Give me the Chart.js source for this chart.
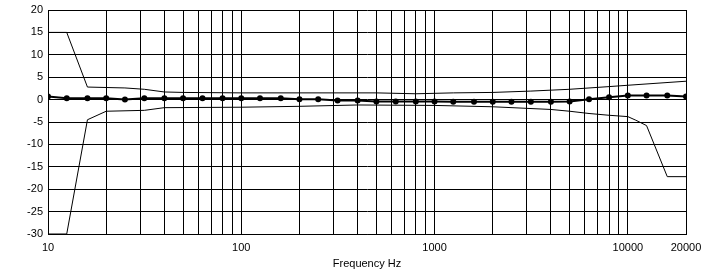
<!DOCTYPE html>
<html>
<head>
<meta charset="utf-8">
<script src="https://cdn.jsdelivr.net/npm/chart.js@4"></script>
<style>
  body { margin: 0; background: #fff; }
  canvas { display: block; }
</style>
</head>
<body>
<canvas id="freq_chart" width="706" height="275"></canvas>
<script>
// measured response, 1/3 octave bands
const freqs = [10, 12.5, 16, 20, 25, 31.5, 40, 50, 63, 80, 100, 125, 160, 200, 250, 315, 400, 500, 630, 800,
  1000, 1250, 1600, 2000, 2500, 3150, 4000, 5000, 6300, 8000, 10000, 12500, 16000, 20000];
const response = [0.7, 0.3, 0.3, 0.3, 0.0, 0.3, 0.3, 0.3, 0.3, 0.3, 0.3, 0.3, 0.3, 0.1, 0.1, -0.2, -0.2, -0.4, -0.4, -0.4,
  -0.4, -0.5, -0.5, -0.5, -0.5, -0.5, -0.5, -0.4, 0.1, 0.5, 0.9, 0.9, 0.9, 0.7];

// tolerance limits
const upperFreqs = [10, 12.5, 16, 20, 25, 31.5, 40, 50, 100, 200, 500, 800, 1000, 1250, 2000, 3150, 5000, 8000, 10000, 20000];
const upperLimit = [15, 15, 2.8, 2.7, 2.6, 2.3, 1.7, 1.6, 1.5, 1.5, 1.5, 1.3, 1.4, 1.5, 1.6, 1.9, 2.3, 2.9, 3.2, 4.1];
const lowerFreqs = [10, 12.5, 16, 20, 31.5, 40, 100, 200, 400, 1000, 2000, 4000, 5000, 6300, 8000, 10000, 11000, 12500, 16000, 20000];
const lowerLimit = [-30, -30, -4.5, -2.6, -2.4, -1.8, -1.7, -1.5, -1.2, -1.3, -1.6, -2.2, -2.6, -3.1, -3.5, -3.8, -4.6, -5.8, -17.2, -17.2];

// axis ticks
const xTicks = [10, 20, 30, 40, 50, 60, 70, 80, 90, 100, 200, 300, 400, 500, 600, 700, 800, 900,
  1000, 2000, 3000, 4000, 5000, 6000, 7000, 8000, 9000, 10000, 20000];
const xLabels = [10, 100, 1000, 10000, 20000];

const toPoints = (xs, ys) => xs.map((x, i) => ({ x: x, y: ys[i] }));

const ctx = document.getElementById("freq_chart");
const font = { family: "'Liberation Sans', Arial, sans-serif", size: 11 };

new Chart(ctx, {
  type: "line",
  data: {
    datasets: [
      {
        label: "upper",
        data: toPoints(upperFreqs, upperLimit),
        borderColor: "#000",
        borderWidth: 1,
        pointRadius: 0,
        tension: 0,
      },
      {
        label: "lower",
        data: toPoints(lowerFreqs, lowerLimit),
        borderColor: "#000",
        borderWidth: 1,
        pointRadius: 0,
        tension: 0,
      },
      {
        label: "response",
        data: toPoints(freqs, response),
        borderColor: "#000",
        backgroundColor: "#000",
        borderWidth: 2,
        pointRadius: 3,
        pointBorderWidth: 0,
        tension: 0,
      },
    ],
  },
  options: {
    responsive: false,
    animation: false,
    devicePixelRatio: 1,
    layout: { padding: { top: 10, right: 20, left: 0, bottom: 0 } },
    plugins: { legend: { display: false }, tooltip: { enabled: false } },
    scales: {
      x: {
        type: "logarithmic",
        min: 10,
        max: 20000,
        afterBuildTicks: (scale) => {
          scale.ticks = xTicks.map((v) => ({ value: v }));
        },
        afterFit: (scale) => {
          scale.height = 41;
          scale.paddingLeft = 0;
          scale.paddingRight = 0;
        },
        grid: { color: "#000", lineWidth: 1, drawTicks: false },
        border: { color: "#000", width: 1 },
        ticks: {
          color: "#000",
          font: font,
          padding: 7,
          autoSkip: false,
          maxRotation: 0,
          callback: (v) => (xLabels.includes(v) ? String(v) : ""),
        },
        title: {
          display: true,
          text: "Frequency Hz",
          color: "#000",
          font: font,
          padding: { top: 0, bottom: 4 },
        },
      },
      y: {
        min: -30,
        max: 20,
        afterFit: (scale) => {
          scale.width = 48;
          scale.paddingTop = 0;
          scale.paddingBottom = 0;
        },
        grid: { color: "#000", lineWidth: 1, drawTicks: false },
        border: { color: "#000", width: 1 },
        ticks: { color: "#000", font: font, padding: 5, stepSize: 5 },
      },
    },
  },
});
</script>
</body>
</html>
